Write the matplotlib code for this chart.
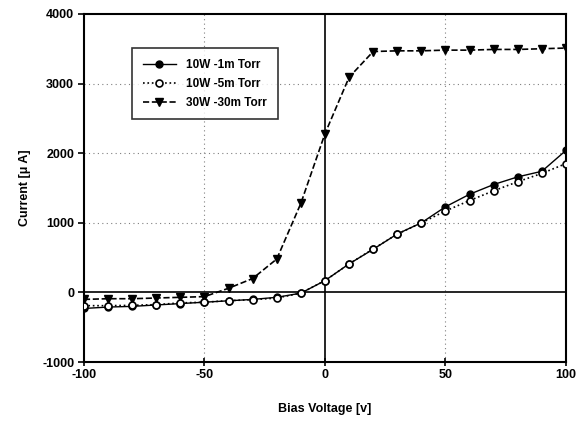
import matplotlib.pyplot as plt

plt.rcParams['font.family'] = ['Liberation Sans', 'DejaVu Sans']
plt.rcParams['axes.unicode_minus'] = False

voltage = [-100, -90, -80, -70, -60, -50, -40, -30, -20, -10, 0,
           10, 20, 30, 40, 50, 60, 70, 80, 90, 100]

# 10W - 1m Torr (filled circles, solid)
cur_10w_1m = [-230, -210, -200, -180, -160, -140, -120, -100, -70, -10, 170,
              410, 620, 840, 1000, 1230, 1410, 1550, 1660, 1740, 2040]
# 10W - 5m Torr (open circles, dotted)
cur_10w_5m = [-190, -190, -185, -175, -150, -140, -118, -104, -80, -10, 170,
              410, 625, 838, 1000, 1170, 1320, 1460, 1590, 1710, 1850]
# 30W - 30m Torr (triangles, dashed)
cur_30w_30m = [-100, -90, -90, -80, -70, -60, 60, 200, 480, 1280, 2280,
               3090, 3460, 3470, 3470, 3480, 3480, 3490, 3490, 3500, 3510]

labels = ['10W -1m Torr', '10W -5m Torr', '30W -30m Torr']

fig = plt.figure(figsize=(5.79, 4.22), dpi=100)
ax = fig.add_axes([0.145, 0.142, 0.8325, 0.825])

ax.plot(voltage, cur_10w_1m, '-', color='black', lw=1.0, marker='o',
        ms=5, mfc='black', mec='black', label=labels[0], zorder=4)
ax.plot(voltage, cur_10w_5m, ':', color='black', lw=1.2, marker='o',
        ms=5, mfc='white', mec='black', mew=1.2, label=labels[1], zorder=5)
ax.plot(voltage, cur_30w_30m, '--', color='black', lw=1.2, marker='v',
        ms=6, mfc='black', mec='black', label=labels[2], zorder=3)

ax.axhline(0, color='black', lw=1.2, zorder=2)
ax.axvline(0, color='black', lw=1.2, zorder=2)

ax.set_xlim(-100, 100)
ax.set_ylim(-1000, 4000)
ax.set_xticks([-100, -50, 0, 50, 100])
ax.set_yticks([-1000, 0, 1000, 2000, 3000, 4000])

# dotted grid (skip the lines drawn as axes)
for y in [1000, 2000, 3000]:
    ax.axhline(y, color='gray', lw=0.8, ls=(0, (1, 3)), zorder=1)
for x in [-50, 50]:
    ax.axvline(x, color='gray', lw=0.8, ls=(0, (1, 3)), zorder=1)

for s in ax.spines.values():
    s.set_linewidth(1.5)
ax.tick_params(axis='y', direction='out', length=4, width=1.2, labelsize=9, pad=3)
ax.tick_params(axis='x', direction='inout', length=6, width=1.2, labelsize=9, pad=2)
for t in ax.get_xticklabels() + ax.get_yticklabels():
    t.set_fontweight('bold')

ax.set_xlabel('Bias Voltage [v]', fontsize=9, fontweight='bold', labelpad=16)
ax.set_ylabel('Current [\u03bc A]', fontsize=9, fontweight='bold', labelpad=8)

leg = ax.legend(loc='upper left', bbox_to_anchor=(0.0996, 0.902), borderaxespad=0,
                fontsize=8.5, frameon=True, fancybox=False, edgecolor='black',
                handlelength=2.8, handletextpad=0.9, borderpad=0.9,
                labelspacing=0.6)
leg.get_frame().set_linewidth(1.2)
for t in leg.get_texts():
    t.set_fontweight('bold')

fig.savefig('out.png', dpi=100)
